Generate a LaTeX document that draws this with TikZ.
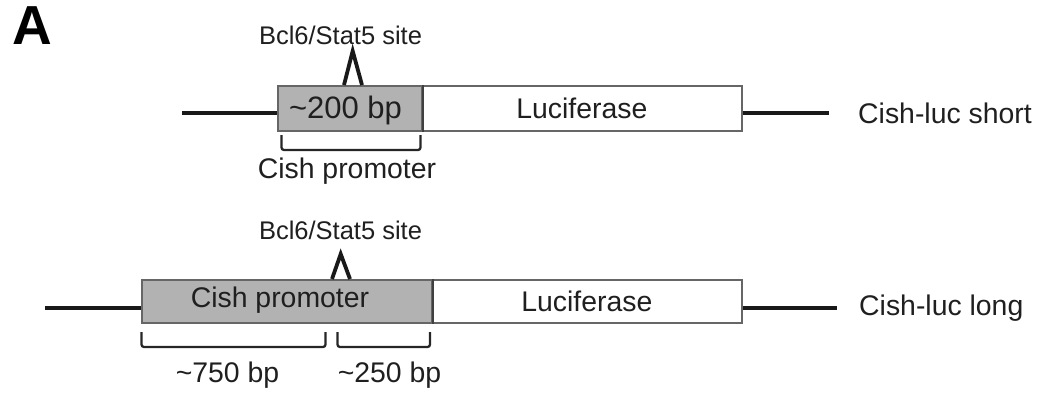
\documentclass[tikz,border=0pt]{standalone}
\usepackage{fontspec}
\setmainfont{Liberation Sans}
\begin{document}
\begin{tikzpicture}[x=1pt,y=-1pt,
  lbl/.style={inner sep=0pt,text=black!88,font=\fontsize{28.4}{30}\selectfont},
  sitelbl/.style={inner sep=0pt,text=black!88,font=\fontsize{25.5}{27}\selectfont},
  seg/.style={draw=black!60,line width=1.8pt,inner sep=0pt,anchor=north west},
  promo/.style={seg,fill=black!30},
  luc/.style={seg,fill=white},
  dna/.style={line width=4pt,black!90},
  caret/.style={line width=3.8pt,black!90,line join=miter},
  brace/.style={line width=2.3pt,black!85,rounded corners=2.5pt}
]
\useasboundingbox (0,0) rectangle (1043,392);

\node[anchor=north west,inner sep=0pt,font=\fontsize{55}{57}\selectfont\bfseries] (panel) at (12,6) {A};

% --- Cish-luc short construct ---
\node[promo,minimum width=144pt,minimum height=45pt] (p1) at (277,85) {};
\node[luc,minimum width=320pt,minimum height=45pt] (l1) at (421,85) {};
\draw[black!75,line width=1.8pt] (p1.north east) -- (p1.south east);
\node[lbl,font=\fontsize{31}{33}\selectfont] (bp1) at (345.5,110) {\textasciitilde200 bp};
\node[lbl] (luctext1) at (l1.center) {Luciferase};
\coordinate (d1a) at (182,113);
\draw[dna] (d1a) -- (p1.west |- d1a);
\coordinate (d1b) at (829,113);
\draw[dna] (l1.east |- d1b) -- (d1b);
\node[lbl,anchor=west] (name1) at (858,113) {Cish-luc short};
\coordinate (s1a) at (344,85);
\coordinate (s1t) at (352.7,51);
\coordinate (s1b) at (362,85);
\draw[caret] (s1a) -- (s1t) -- (s1b);
\node[sitelbl] (site1) at (340.5,35) {Bcl6/Stat5 site};
\coordinate (b1a) at (281.5,135);
\coordinate (b1b) at (420.5,135);
\draw[brace] (b1a) -- ++(0,15) -- (420.5,150) -- (b1b);
\node[lbl] (cp1) at (347,171) {Cish promoter};

% --- Cish-luc long construct ---
\node[promo,minimum width=290pt,minimum height=43pt] (p2) at (141,279) {};
\node[luc,minimum width=310pt,minimum height=43pt] (l2) at (431,279) {};
\draw[black!75,line width=1.8pt] (p2.north east) -- (p2.south east);
\node[lbl] (cp2) at (280,300) {Cish promoter};
\node[lbl] (luctext2) at (l2.center) {Luciferase};
\coordinate (d2a) at (45,308);
\draw[dna] (d2a) -- (p2.west |- d2a);
\coordinate (d2b) at (837,308);
\draw[dna] (l2.east |- d2b) -- (d2b);
\node[lbl,anchor=west] (name2) at (859,308) {Cish-luc long};
\coordinate (s2a) at (332,279);
\coordinate (s2t) at (340.7,254);
\coordinate (s2b) at (350,279);
\draw[caret] (s2a) -- (s2t) -- (s2b);
\node[sitelbl] (site2) at (340.5,230) {Bcl6/Stat5 site};
\coordinate (b2a) at (141.5,332);
\coordinate (b2b) at (325.5,332);
\draw[brace] (b2a) -- ++(0,15) -- (325.5,347) -- (b2b);
\coordinate (b3a) at (337.5,332);
\coordinate (b3b) at (430,332);
\draw[brace] (b3a) -- ++(0,15) -- (430,347) -- (b3b);
\node[lbl] (bp750) at (227.5,375) {\textasciitilde750 bp};
\node[lbl] (bp250) at (389.5,375) {\textasciitilde250 bp};
\end{tikzpicture}
\end{document}
